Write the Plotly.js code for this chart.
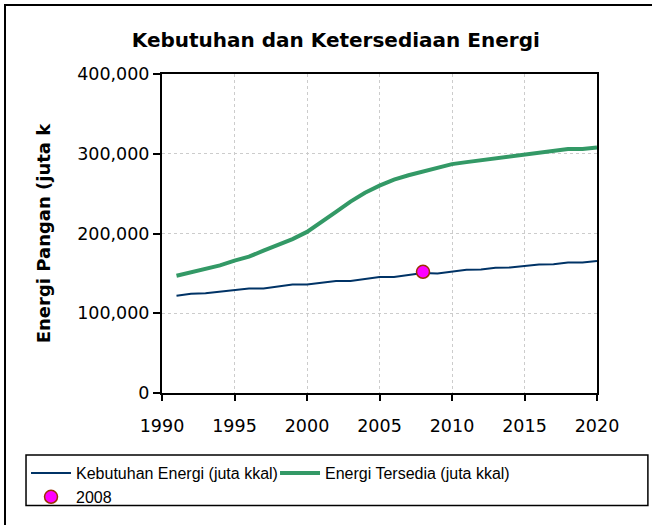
<!DOCTYPE html>
<html>
<head>
<meta charset="utf-8">
<script src="https://cdn.plot.ly/plotly-3.0.1.min.js"></script>
<style>
  html, body { margin: 0; padding: 0; background: #fff; }
  #wrap { position: relative; width: 652px; height: 525px; overflow: hidden; }
  #chart { width: 652px; height: 525px; }
  #frame { position: absolute; left: 4px; top: 4px; width: 700px; height: 600px;
           border-left: 2px solid #000; border-top: 2px solid #000; pointer-events: none; }
</style>
</head>
<body>
<div id="wrap"><div id="chart"></div><div id="frame"></div></div>
<script>
const years = [1991,1992,1993,1994,1995,1996,1997,1998,1999,2000,2001,2002,2003,2004,2005,2006,2007,2008,2009,2010,2011,2012,2013,2014,2015,2016,2017,2018,2019,2020];
const kebutuhan = [122000,124500,125000,127000,129000,131000,131000,133500,136000,136000,138000,140500,140500,143000,145500,145500,148000,150500,150000,152000,154500,155000,157000,157500,159500,161000,161500,163500,163500,165500];
const tersedia = [147000,151000,155500,160000,166000,171000,178500,186000,193000,202000,214000,227000,240000,251000,260000,267500,273000,278000,282500,287000,289500,292000,294500,297000,299500,301500,304000,306000,306000,308000];
const pointYear = [2008];
const pointValue = [152000];
const xTicks = [1990,1995,2000,2005,2010,2015,2020];
const xTickText = ['1990','1995','2000','2005','2010','2015','2020'];
const yTicks = [0,100000,200000,300000,400000];
const yTickText = ['0','100,000','200,000','300,000','400,000'];

const wide = '"DejaVu Sans", Verdana, sans-serif';
const arial = 'Arial, "Liberation Sans", sans-serif';

const traces = [
  { x: years, y: kebutuhan, type: 'scatter', mode: 'lines', name: 'Kebutuhan Energi (juta kkal)',
    line: { color: '#003366', width: 2 } },
  { x: years, y: tersedia, type: 'scatter', mode: 'lines', name: 'Energi Tersedia (juta kkal)',
    line: { color: '#339966', width: 4 } },
  { x: pointYear, y: pointValue, type: 'scatter', mode: 'markers', name: '2008',
    marker: { color: '#FF00FF', size: 13, line: { color: '#993300', width: 1.5 } } }
];

const layout = {
  width: 652, height: 525,
  margin: { l: 162, r: 55, t: 74, b: 131 },
  paper_bgcolor: '#fff', plot_bgcolor: '#fff',
  font: { family: wide, color: '#000', size: 17 },
  showlegend: true,
  title: { text: '<b>Kebutuhan dan Ketersediaan Energi</b>', font: { family: wide, size: 20, color: '#000' },
           x: 0.515, xanchor: 'center', y: 0.924, yanchor: 'middle' },
  xaxis: {
    range: [1990, 2020], tickmode: 'array', tickvals: xTicks, ticktext: xTickText,
    showgrid: true, gridcolor: '#cccccc', griddash: 'dot', gridwidth: 1,
    showline: true, linecolor: '#000', linewidth: 2, mirror: true,
    ticks: 'outside', ticklen: 6, tickwidth: 2, tickcolor: '#000', ticklabelstandoff: 10,
    tickfont: { family: wide, size: 17.5, color: '#000' }, zeroline: false, fixedrange: true
  },
  yaxis: {
    range: [0, 400000], tickmode: 'array', tickvals: yTicks, ticktext: yTickText,
    showgrid: true, gridcolor: '#cccccc', griddash: 'dot', gridwidth: 1,
    showline: true, linecolor: '#000', linewidth: 2, mirror: true,
    ticks: 'outside', ticklen: 7, tickwidth: 2, tickcolor: '#000',
    tickfont: { family: wide, size: 17.5, color: '#000' }, zeroline: false, fixedrange: true,
    title: { text: '<b>Energi Pangan (juta k</b>', font: { family: wide, size: 18, color: '#000' }, standoff: 22 }
  },
  legend: {
    orientation: 'h', x: -0.3126, xanchor: 'left', y: -0.194, yanchor: 'top',
    bgcolor: 'rgba(0,0,0,0)', borderwidth: 0,
    font: { family: arial, size: 16, color: '#000' }, tracegroupgap: 0, itemwidth: 40,
    entrywidth: 194, entrywidthmode: 'pixels', traceorder: 'normal'
  },
  shapes: [
    { type: 'rect', xref: 'paper', yref: 'paper', x0: -0.3126, x1: 1.117, y0: -0.353, y1: -0.194,
      line: { color: '#000', width: 1.5 }, fillcolor: 'rgba(0,0,0,0)', layer: 'above' }
  ]
};

Plotly.newPlot('chart', traces, layout, { displayModeBar: false, staticPlot: true });
</script>
</body>
</html>
